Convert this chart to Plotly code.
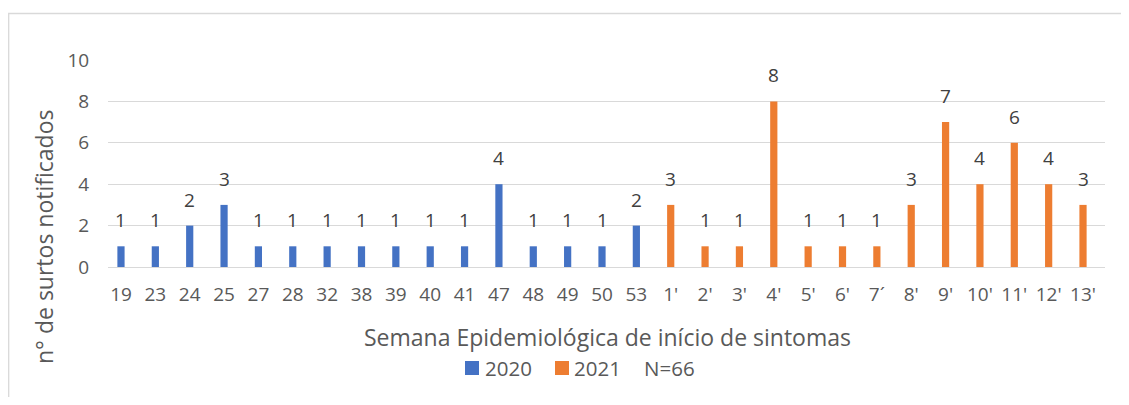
import plotly.graph_objects as go

categories = ["19", "23", "24", "25", "27", "28", "32", "38", "39", "40", "41", "47", "48", "49", "50", "53",
              "1'", "2'", "3'", "4'", "5'", "6'", "7´", "8'", "9'", "10'", "11'", "12'", "13'"]
values_2020 = [1, 1, 2, 3, 1, 1, 1, 1, 1, 1, 1, 4, 1, 1, 1, 2]
values_2021 = [3, 1, 1, 8, 1, 1, 1, 3, 7, 4, 6, 4, 3]
y_ticks = [0, 2, 4, 6, 8, 10]
series_names = ["2020", "2021"]
note = "N=66"

cats_2020 = categories[:len(values_2020)]
cats_2021 = categories[len(values_2020):]

BLUE = "#4472C4"
ORANGE = "#ED7D31"
TXT = "#595959"
FONT = "Open Sans"

# the page body has an 8px margin; figure sized to fit the 1129x405 window
OFF = 8
W, H = 1129 - 2 * OFF, 405 - 2 * OFF
# plot area in page pixels: x 108..1105, y 60..267
L = 108 - OFF
T = 60 - OFF
R = W - (1105 - OFF)
B = H - (267 - OFF)
pw = W - L - R
ph = H - T - B

def px_x(p):  # page pixel -> paper
    return (p - OFF - L) / pw

def px_y(p):
    return (H - B - (p - OFF)) / ph

fig = go.Figure()
fig.add_trace(go.Bar(x=cats_2020, y=values_2020, name=series_names[0],
                     marker=dict(color=BLUE, line=dict(width=0)), width=0.21, showlegend=False))
fig.add_trace(go.Bar(x=cats_2021, y=values_2021, name=series_names[1],
                     marker=dict(color=ORANGE, line=dict(width=0)), width=0.21, showlegend=False))

annotations = []
for c, v in list(zip(cats_2020, values_2020)) + list(zip(cats_2021, values_2021)):
    annotations.append(dict(x=categories.index(c), y=v, text=str(v), showarrow=False, yanchor="bottom",
                            xanchor="center", yshift=11, font=dict(family=FONT, size=19, color="#404040")))

annotations.append(dict(xref="paper", yref="paper", x=px_x(44), y=px_y(237), text="n° de surtos notificados",
                        textangle=-90, showarrow=False, xanchor="center", yanchor="middle",
                        font=dict(family=FONT, size=23, color=TXT)))
annotations.append(dict(xref="paper", yref="paper", x=px_x(607), y=px_y(337), xanchor="center", yanchor="middle",
                        text="Semana Epidemiológica de início de sintomas",
                        showarrow=False, font=dict(family=FONT, size=23, color=TXT)))

# legend (swatches + labels)
LEG_Y = 368
legend_items = [(series_names[0], BLUE, 465, 483), (series_names[1], ORANGE, 555, 572)]
shapes = [dict(type="rect", xref="paper", yref="paper",
               x0=px_x(8.7), x1=px_x(1160), y0=px_y(440), y1=px_y(13.5),
               line=dict(color="#D9D9D9", width=1.3), fillcolor="rgba(0,0,0,0)", layer="below")]
for name, col, sx, tx in legend_items:
    shapes.append(dict(type="rect", xref="paper", yref="paper",
                       x0=px_x(sx), x1=px_x(sx + 14), y0=px_y(LEG_Y + 7), y1=px_y(LEG_Y - 7),
                       line=dict(width=0), fillcolor=col))
    annotations.append(dict(xref="paper", yref="paper", x=px_x(tx), y=px_y(LEG_Y), xanchor="left",
                            yanchor="middle", text=name, showarrow=False,
                            font=dict(family=FONT, size=20.5, color=TXT)))
annotations.append(dict(xref="paper", yref="paper", x=px_x(642), y=px_y(LEG_Y), xanchor="left", yanchor="middle",
                        text=note, showarrow=False, font=dict(family=FONT, size=20.5, color=TXT)))

fig.update_layout(
    template="none",
    width=W, height=H,
    margin=dict(l=L, r=R, t=T, b=B, autoexpand=False),
    paper_bgcolor="white", plot_bgcolor="white",
    barmode="overlay",
    font=dict(family=FONT, size=19, color=TXT),
    showlegend=False,
    annotations=annotations,
    xaxis=dict(type="category", categoryorder="array", categoryarray=categories,
               range=[-0.378, 28.64], showgrid=False, showline=False, zeroline=False, automargin=False,
               ticks="outside", ticklen=10, tickcolor="rgba(0,0,0,0)",
               tickfont=dict(family=FONT, size=19, color=TXT), fixedrange=True),
    yaxis=dict(range=[0, 10], tickvals=y_ticks, showgrid=True, gridcolor="#D9D9D9", gridwidth=1.3,
               zeroline=True, zerolinecolor="#D9D9D9", zerolinewidth=1.3, showline=False, automargin=False,
               ticks="outside", ticklen=14, tickcolor="rgba(0,0,0,0)",
               tickfont=dict(family=FONT, size=19, color=TXT), fixedrange=True),
    shapes=shapes,
)

fig.write_html("out.html")
